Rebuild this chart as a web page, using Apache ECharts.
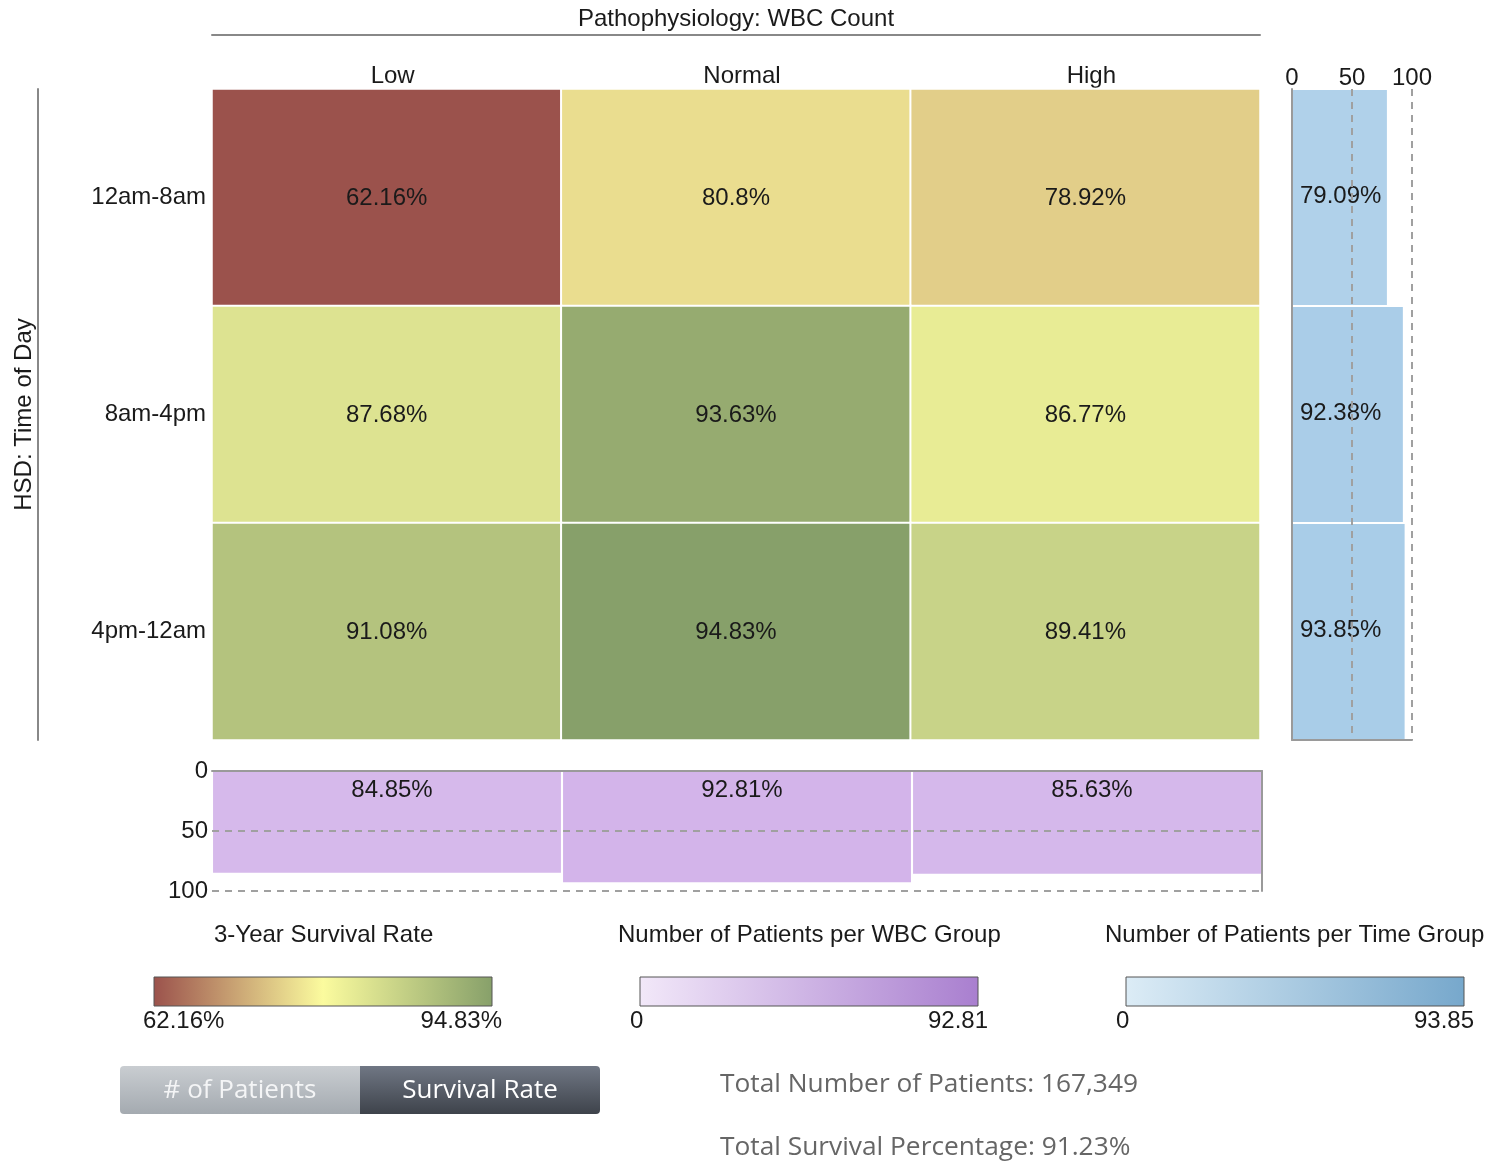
<!DOCTYPE html>
<html><head><meta charset="utf-8">
<script src="https://cdn.jsdelivr.net/npm/echarts@6/dist/echarts.min.js"></script>
<style>html,body{margin:0;padding:0;background:#fff}#c{width:1495px;height:1162px}</style>
</head><body><div id="c"></div>
<script>
// ---- data ----
const wbcGroups = ['Low', 'Normal', 'High'];
const timeGroups = ['12am-8am', '8am-4pm', '4pm-12am'];
const survRow0 = [62.16, 80.8, 78.92];
const survRow1 = [87.68, 93.63, 86.77];
const survRow2 = [91.08, 94.83, 89.41];
const wbcPatients = [84.85, 92.81, 85.63];
const timePatients = [79.09, 92.38, 93.85];
const barTicks = [0, 50, 100];
const totalPatients = '167,349';
const totalSurvival = '91.23%';

// ---- build ----
const survival = [survRow0, survRow1, survRow2];
const hmData = [];
survival.forEach((row, r) => row.forEach((v, c) => hmData.push([c, r, v])));
const flat = survival.flat();
const sMin = Math.min(...flat), sMax = Math.max(...flat);
const sMid = flat.reduce((a, b) => a + b, 0) / flat.length;
const wMax = Math.max(...wbcPatients), tMax = Math.max(...timePatients);

const RED = [155, 82, 76], YEL = [252, 252, 159], GRN = [135, 160, 106];
function mix(a, b, t) { return 'rgb(' + a.map((x, i) => Math.round(x + (b[i] - x) * t)).join(',') + ')'; }
const stops = [];
for (let i = 0; i <= 40; i++) {
  const v = sMin + (sMax - sMin) * i / 40;
  stops.push(v <= sMid ? mix(RED, YEL, (v - sMin) / (sMid - sMin)) : mix(YEL, GRN, (v - sMid) / (sMax - sMid)));
}

const F = '"Liberation Sans", Arial, sans-serif';
const FS = 24;
const TXT = '#1a1a1a';
const AX = '#9a9a9a';
const dash = { show: true, lineStyle: { color: '#a0a0a0', width: 2, type: [7, 6] } };
const noAx = { show: false };

const chart = echarts.init(document.getElementById('c'));
const txt = (x, y, text, opts) => Object.assign({
  type: 'text', x, y,
  style: Object.assign({ text, fill: TXT, fontSize: FS, fontFamily: F, textAlign: 'left', textVerticalAlign: 'middle', align: 'left', verticalAlign: 'middle' }, opts || {})
});
const lg = (c0, c1, c2) => ({
  type: 'linear', x: 0, y: 0, x2: 1, y2: 0,
  colorStops: c2 ? [{ offset: 0, color: c0 }, { offset: 0.5, color: c1 }, { offset: 1, color: c2 }]
                 : [{ offset: 0, color: c0 }, { offset: 1, color: c1 }]
});
const legendBar = (x, fill) => ({ type: 'rect', shape: { x, y: 977, width: 338, height: 29 }, style: { fill, stroke: '#555', lineWidth: 1 } });

const option = {
  backgroundColor: '#fff',
  animation: false,
  textStyle: { fontFamily: F },
  grid: [
    { left: 212, top: 89, width: 1048, height: 651, outerBoundsMode: 'none', containLabel: false },
    { left: 1292, top: 89, width: 120, height: 651, outerBoundsMode: 'none', containLabel: false },
    { left: 212, top: 771, width: 1050, height: 120, outerBoundsMode: 'none', containLabel: false }
  ],
  xAxis: [
    { gridIndex: 0, type: 'category', data: wbcGroups, position: 'top', axisLine: noAx, axisTick: noAx,
      axisLabel: { fontSize: FS, color: TXT, margin: 1, padding: [0, 0, 0, 12] } },
    { gridIndex: 0, type: 'category', data: wbcGroups, position: 'top', offset: 54,
      axisLine: { show: true, lineStyle: { color: '#888', width: 2 } }, axisTick: noAx, axisLabel: noAx,
      name: 'Pathophysiology: WBC Count', nameLocation: 'middle', nameGap: 4,
      nameTextStyle: { fontSize: FS, color: TXT } },
    { gridIndex: 1, type: 'value', min: barTicks[0], max: barTicks[2], interval: barTicks[1] - barTicks[0], position: 'top', z: 5,
      axisLine: noAx, axisTick: noAx, axisLabel: { fontSize: FS, color: TXT, margin: -1 }, splitLine: dash },
    { gridIndex: 1, type: 'value', min: barTicks[0], max: barTicks[2], position: 'bottom', z: 6,
      axisLine: { show: true, lineStyle: { color: AX, width: 2 } }, axisTick: noAx, axisLabel: noAx, splitLine: noAx },
    { gridIndex: 2, type: 'category', data: wbcGroups, position: 'top', z: 6,
      axisLine: { show: true, lineStyle: { color: AX, width: 2 } }, axisTick: noAx, axisLabel: noAx }
  ],
  yAxis: [
    { gridIndex: 0, type: 'category', data: timeGroups, inverse: true, position: 'left', axisLine: noAx, axisTick: noAx,
      axisLabel: { fontSize: FS, color: TXT, margin: 6 } },
    { gridIndex: 0, type: 'category', data: timeGroups, inverse: true, position: 'left', offset: 174,
      axisLine: { show: true, lineStyle: { color: '#888', width: 2 } }, axisTick: noAx, axisLabel: noAx,
      name: 'HSD: Time of Day', nameLocation: 'middle', nameGap: 2, nameRotate: 90,
      nameTextStyle: { fontSize: FS, color: TXT } },
    { gridIndex: 1, type: 'category', data: timeGroups, inverse: true, position: 'left', z: 6,
      axisLine: { show: true, lineStyle: { color: AX, width: 2 } }, axisTick: noAx, axisLabel: noAx },
    { gridIndex: 2, type: 'value', inverse: true, position: 'left', min: barTicks[0], max: barTicks[2], interval: barTicks[1] - barTicks[0], z: 5,
      axisLine: noAx, axisTick: noAx, axisLabel: { fontSize: FS, color: TXT, margin: 4 }, splitLine: dash },
    { gridIndex: 2, type: 'value', position: 'right', min: barTicks[0], max: barTicks[2], z: 6,
      axisLine: { show: true, lineStyle: { color: AX, width: 2 } }, axisTick: noAx, axisLabel: noAx, splitLine: noAx }
  ],
  visualMap: [
    { show: false, seriesIndex: 0, dimension: 2, min: sMin, max: sMax, inRange: { color: stops } }
  ],
  series: [
    { type: 'heatmap', xAxisIndex: 0, yAxisIndex: 0, data: hmData,
      itemStyle: { borderColor: '#fff', borderWidth: 2 },
      label: { show: true, fontSize: FS, color: TXT, fontFamily: F, offset: [0, 1], formatter: p => p.value[2] + '%' },
      emphasis: { disabled: true } },
    { type: 'bar', xAxisIndex: 2, yAxisIndex: 2, data: timePatients, barCategoryGap: '1%',
      itemStyle: { color: p => mix([213, 230, 245], [169, 205, 232], p.value / tMax) },
      label: { show: true, position: 'insideLeft', distance: 8, fontSize: FS, color: TXT, fontFamily: F, offset: [0, -1], formatter: '{c}%' } },
    { type: 'bar', xAxisIndex: 4, yAxisIndex: 3, data: wbcPatients, barCategoryGap: '0.6%',
      itemStyle: { color: p => mix([243, 236, 249], [211, 180, 234], p.value / wMax) },
      label: { show: true, position: 'insideTop', distance: 7, fontSize: FS, color: TXT, fontFamily: F, offset: [5, 0], formatter: '{c}%' } }
  ],
  graphic: [
    txt(214, 935, '3-Year Survival Rate'),
    txt(618, 935, 'Number of Patients per WBC Group'),
    txt(1105, 935, 'Number of Patients per Time Group'),
    legendBar(154, lg('#9b524c', '#fbfb9e', '#87a06a')),
    legendBar(640, lg('#f2e8f9', '#a97fcf')),
    legendBar(1126, lg('#dcecf6', '#77a8cc')),
    txt(143, 1021, sMin + '%'),
    txt(502, 1021, sMax + '%', { textAlign: 'right', align: 'right' }),
    txt(630, 1021, String(barTicks[0])),
    txt(988, 1021, String(wMax), { textAlign: 'right', align: 'right' }),
    txt(1116, 1021, String(barTicks[0])),
    txt(1474, 1021, String(tMax), { textAlign: 'right', align: 'right' }),
    { type: 'rect', shape: { x: 120, y: 1066, width: 240, height: 48, r: [4, 0, 0, 4] },
      style: { fill: { type: 'linear', x: 0, y: 0, x2: 0, y2: 1, colorStops: [{ offset: 0, color: '#c9cdd1' }, { offset: 1, color: '#a4aab0' }] } } },
    { type: 'rect', shape: { x: 360, y: 1066, width: 240, height: 48, r: [0, 4, 4, 0] },
      style: { fill: { type: 'linear', x: 0, y: 0, x2: 0, y2: 1, colorStops: [{ offset: 0, color: '#707784' }, { offset: 1, color: '#3e434b' }] } } },
    txt(240, 1091, '# of Patients', { fill: '#f4f5f6', fontFamily: '"Open Sans", sans-serif', fontSize: 26, textAlign: 'center', align: 'center' }),
    txt(480, 1091, 'Survival Rate', { fill: '#ffffff', fontFamily: '"Open Sans", sans-serif', fontSize: 26, textAlign: 'center', align: 'center' }),
    txt(720, 1085, 'Total Number of Patients: ' + totalPatients, { fill: '#666', fontFamily: '"Open Sans", sans-serif', fontSize: 26.3 }),
    txt(720, 1148, 'Total Survival Percentage: ' + totalSurvival, { fill: '#666', fontFamily: '"Open Sans", sans-serif', fontSize: 26.3 })
  ]
};
chart.setOption(option);
</script>
</body></html>
